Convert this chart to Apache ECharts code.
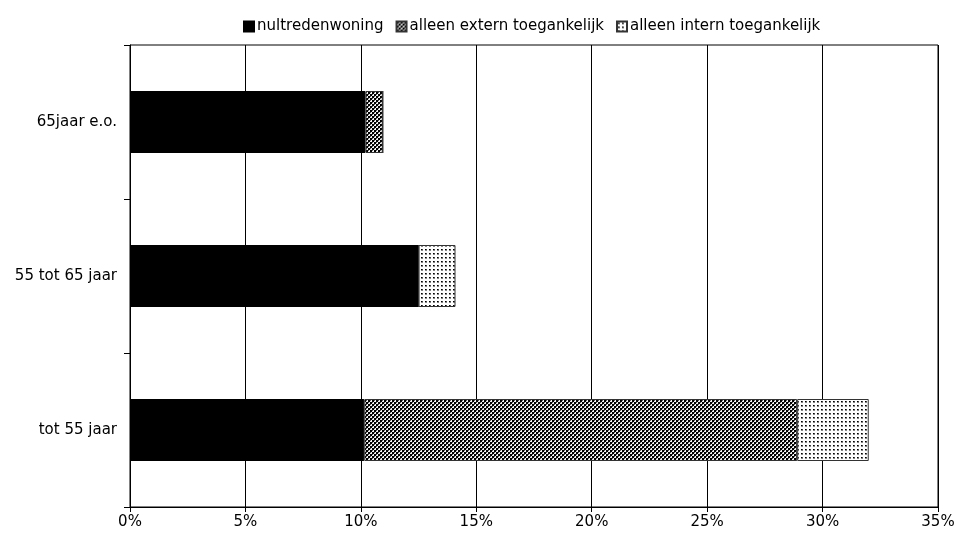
<!DOCTYPE html>
<html>
<head>
<meta charset="utf-8">
<script src="https://cdn.jsdelivr.net/npm/echarts@6/dist/echarts.min.js"></script>
<style>
  html, body { margin: 0; padding: 0; background: #fff; }
  #chart { width: 955px; height: 536px; }
</style>
</head>
<body>
<div id="chart"></div>
<script>
// Age groups, bottom to top on the category axis
const categories = ['tot 55 jaar', '55 tot 65 jaar', '65jaar e.o.'];
const seriesNames = ['nultredenwoning', 'alleen extern toegankelijk', 'alleen intern toegankelijk'];
// Shares in percent
const nultreden = [10.15, 12.5, 10.2];
const externToeg = [18.75, 0, 0.75];
const internToeg = [3.1, 1.6, 0];
const xTicks = [0, 5, 10, 15, 20, 25, 30, 35];

// Fill patterns drawn on small tiles
function makeTile(size, draw) {
  const c = document.createElement('canvas');
  c.width = size; c.height = size;
  const ctx = c.getContext('2d');
  draw(ctx);
  return { image: c, repeat: 'repeat' };
}
// checkerboard with 2px cells
const checkerFill = makeTile(4, ctx => {
  ctx.fillStyle = '#f2f2f2'; ctx.fillRect(0, 0, 4, 4);
  ctx.fillStyle = '#000';
  ctx.fillRect(0, 0, 2, 2);
  ctx.fillRect(2, 2, 2, 2);
  ctx.fillStyle = '#555';
  ctx.fillRect(2, 0, 1, 1);
  ctx.fillRect(0, 2, 1, 1);
});
// small dots
const dotFill = makeTile(4, ctx => {
  ctx.fillStyle = '#fff'; ctx.fillRect(0, 0, 4, 4);
  ctx.fillStyle = '#000';
  ctx.fillRect(1, 1, 1, 1);
  ctx.fillStyle = '#444';
  ctx.fillRect(2, 1, 1, 1);
  ctx.fillStyle = '#888';
  ctx.fillRect(1, 2, 2, 1);
});

const font = 'DejaVu Sans, Verdana, sans-serif';
const fontSize = 15;
const chart = echarts.init(document.getElementById('chart'), null, { renderer: 'canvas' });

const barWidth = 62;
function seriesOf(name, data, color, withBorder) {
  return {
    name: name,
    type: 'bar',
    stack: 'total',
    barWidth: barWidth,
    data: data,
    itemStyle: {
      color: color,
      borderColor: withBorder ? '#333' : '#000',
      borderWidth: 1
    },
    emphasis: { disabled: true }
  };
}

chart.setOption({
  animation: false,
  backgroundColor: '#fff',
  textStyle: { fontFamily: font },
  legend: {
    top: 19,
    left: 243,
    padding: 0,
    itemWidth: 10,
    itemHeight: 10,
    itemGap: 12,
    icon: 'rect',
    textStyle: { fontFamily: font, fontSize: 15, color: '#000', padding: [0, 0, 0, -2] },
    data: seriesNames
  },
  grid: {
    left: 130, right: 17, top: 45, bottom: 29,
    show: true, borderColor: '#000', borderWidth: 1,
    containLabel: false,
    outerBoundsMode: 'none'
  },
  xAxis: {
    type: 'value',
    min: xTicks[0],
    max: xTicks[xTicks.length - 1],
    interval: 5,
    axisLine: { show: true, lineStyle: { color: '#000', width: 1 } },
    axisTick: { show: true, length: 5, lineStyle: { color: '#000' } },
    axisLabel: { formatter: '{value}%', fontFamily: font, fontSize: fontSize, color: '#000', margin: 8 },
    splitLine: { show: true, lineStyle: { color: '#000', width: 1 } }
  },
  yAxis: {
    type: 'category',
    data: categories,
    axisLine: { show: true, lineStyle: { color: '#000', width: 1 } },
    axisTick: { show: true, length: 6, lineStyle: { color: '#000' } },
    axisLabel: { fontFamily: font, fontSize: fontSize, color: '#000', margin: 13 }
  },
  series: [
    seriesOf(seriesNames[0], nultreden, '#000', false),
    seriesOf(seriesNames[1], externToeg, checkerFill, true),
    seriesOf(seriesNames[2], internToeg, dotFill, true)
  ]
});
</script>
</body>
</html>
